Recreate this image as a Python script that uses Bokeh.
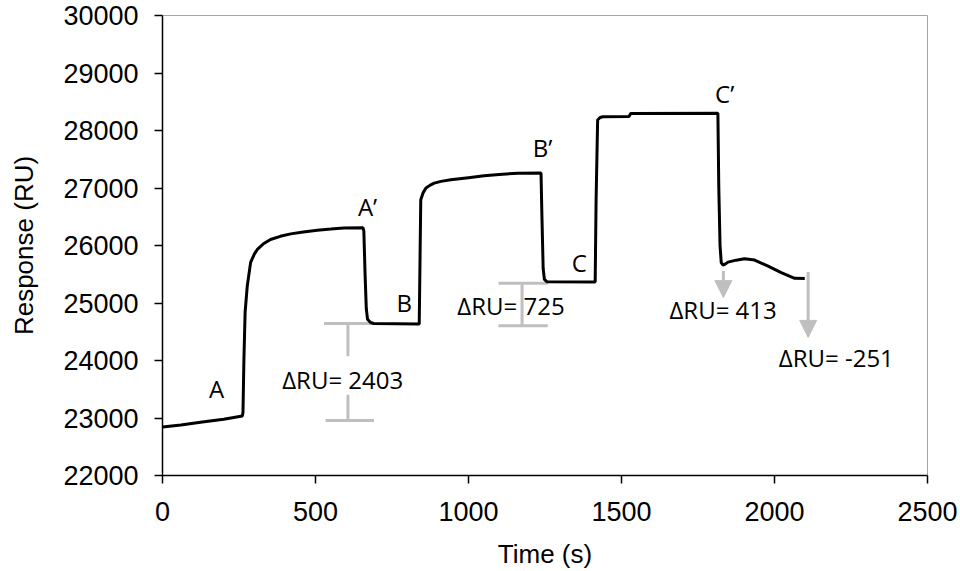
from bokeh.plotting import figure
from bokeh.models import FixedTicker, BasicTickFormatter, Arrow, NormalHead
from bokeh.core.properties import value
from bokeh.embed import file_html
from bokeh.resources import INLINE

# ---- data ----
time_s = [0, 60, 130, 200, 261, 263, 266, 270, 277, 288, 300, 310, 330, 353, 385,
          419, 460, 506, 550, 593, 655, 658, 662, 666, 670, 680, 690, 839,
          841, 844, 852, 861, 875, 888, 910, 942, 1000, 1051, 1100, 1161, 1237,
          1240, 1244, 1248, 1256, 1414, 1417, 1422, 1430, 1439, 1525, 1530, 1815,
          1818, 1822, 1826, 1832, 1840, 1848, 1875, 1902, 1935, 1979, 2022, 2066, 2099]
response_ru = [22843, 22880, 22930, 22980, 23034, 23100, 24000, 24840, 25296, 25706,
               25850, 25931, 26030, 26104, 26160, 26202, 26235, 26265, 26285, 26306,
               26310, 26250, 25500, 24900, 24719, 24660, 24644, 24635,
               25500, 26797, 26920, 26999, 27050, 27085, 27115, 27143, 27180, 27212,
               27235, 27258, 27262, 26500, 25600, 25411, 25371, 25365,
               26800, 28182, 28225, 28239, 28245, 28296, 28298,
               27000, 26000, 25700, 25660, 25680, 25711, 25745, 25770, 25746,
               25642, 25527, 25429, 25425]

x_ticks = [0, 500, 1000, 1500, 2000, 2500]
y_ticks = [22000, 23000, 24000, 25000, 26000, 27000, 28000, 29000, 30000]

# point labels
label_text = ["A", "A\u2019", "B", "B\u2019", "C", "C\u2019"]
label_t = [177, 670, 790, 1242, 1362, 1837]
label_ru = [23506, 26681, 25008, 27709, 25700, 28644]

# delta annotations
delta_text = ["\u0394RU= 2403", "\u0394RU= 725", "\u0394RU= 413", "\u0394RU= -251"]
delta_t = [589, 1139, 1832, 2202]
delta_ru = [23671, 24949, 24892, 24055]

# bracket segments (gray)
br_x0 = [528, 606, 606, 533, 1098, 1175, 1098]
br_x1 = [686, 606, 606, 691, 1259, 1175, 1259]
br_y0 = [24644, 24644, 23403, 22958, 25342, 25342, 24603]
br_y1 = [24644, 24073, 22958, 22958, 25342, 24603, 24603]

# arrows (gray)
ar_t = [1833, 2110]
ar_top = [25555, 25538]
ar_tip = [25094, 24402]

GRAY = "#BFBFBF"

p = figure(width=960, height=571, x_range=(0, 2500), y_range=(22000, 30000),
           output_backend="svg", toolbar_location=None,
           min_border_left=162, min_border_right=33, min_border_top=15,
           min_border_bottom=94, background_fill_color="white",
           border_fill_color="white")

p.outline_line_color = "#A6A6A6"
p.outline_line_width = 1
p.xgrid.visible = False
p.ygrid.visible = False

for ax, ticks in ((p.xaxis, x_ticks), (p.yaxis, y_ticks)):
    ax.ticker = FixedTicker(ticks=ticks)
    ax.formatter = BasicTickFormatter(use_scientific=False)
    ax.major_label_text_font = "Liberation Sans"
    ax.major_label_text_font_size = "27px"
    ax.major_label_text_color = "black"
    ax.axis_label_text_font = "Liberation Sans"
    ax.axis_label_text_font_size = "26px"
    ax.axis_label_text_font_style = "normal"
    ax.axis_label_text_color = "black"
    ax.axis_line_color = "black"
    ax.axis_line_width = 1.5
    ax.major_tick_line_color = "black"
    ax.major_tick_line_width = 1.5
    ax.major_tick_out = 8
    ax.major_tick_in = 0
    ax.minor_tick_line_color = None

p.xaxis.axis_label = "Time (s)"
p.yaxis.axis_label = "Response (RU)"
p.xaxis.major_label_standoff = 18
p.yaxis.major_label_standoff = 16
p.xaxis.axis_label_standoff = 15
p.yaxis.axis_label_standoff = 21

# brackets
p.segment(x0=br_x0, y0=br_y0, x1=br_x1, y1=br_y1, line_color=GRAY, line_width=3)

# arrows
for t, top, tip in zip(ar_t, ar_top, ar_tip):
    p.add_layout(Arrow(x_start=t, y_start=top, x_end=t, y_end=tip,
                       line_color=GRAY, line_width=3,
                       end=NormalHead(size=17, fill_color=GRAY, line_color=GRAY,
                                      line_width=1)))

# curve
p.line(time_s, response_ru, line_color="black", line_width=3)

# texts
p.text(x=label_t, y=label_ru, text=label_text, text_font=value("Open Sans"),
       text_font_size="24px", text_align="center", text_baseline="middle",
       text_color="black")
p.text(x=delta_t, y=delta_ru, text=delta_text, text_font=value("Open Sans"),
       text_font_size="24px", text_align="center", text_baseline="middle",
       text_color="black")

open("out.html", "w").write(file_html(p, INLINE))
